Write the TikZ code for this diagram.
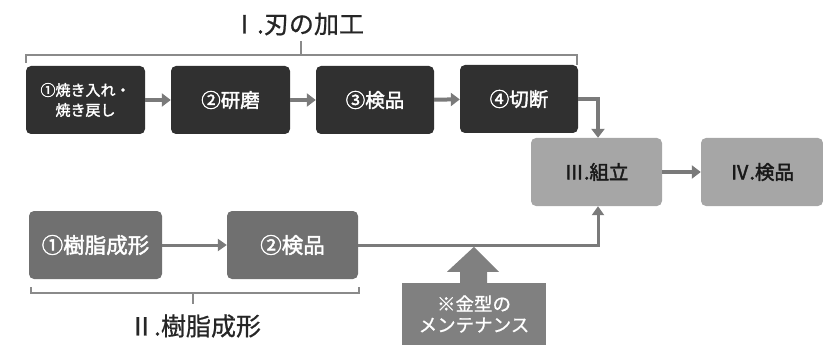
\documentclass[tikz,border=0pt]{standalone}
\usepackage{fontspec}
\setmainfont{Noto Sans CJK JP}
\newfontfamily\boldjp[FakeBold=2]{Noto Sans CJK JP}
\newfontfamily\medjp[FakeBold=0.8]{Noto Sans CJK JP}
\usetikzlibrary{arrows.meta,calc}
\definecolor{darkbox}{HTML}{303030}
\definecolor{midbox}{HTML}{707070}
\definecolor{lightbox}{HTML}{A6A6A6}
\definecolor{maintbox}{HTML}{808080}
\definecolor{arrowgray}{HTML}{7A7A7A}
\definecolor{brackgray}{HTML}{8A8A8A}
\tikzset{
  procbox/.style={rectangle, rounded corners=5pt, minimum height=68pt, inner sep=0pt, align=center, font=\boldjp\fontsize{19.5}{22}\selectfont},
  darkstep/.style={procbox, fill=darkbox, text=white},
  midstep/.style={procbox, fill=midbox, text=white, font=\boldjp\fontsize{21.5}{24}\selectfont},
  lightstep/.style={procbox, fill=lightbox, text=black!90},
  flowarrow/.style={draw=arrowgray, line width=4pt, -{Triangle[length=9pt,width=13pt]}},
  thinflow/.style={draw=arrowgray, line width=3pt, -{Triangle[length=9pt,width=12pt]}},
  bracket/.style={draw=brackgray, line width=1.2pt},
  title/.style={font=\medjp\fontsize{25}{28}\selectfont, text=black!85}
}
\begin{document}
\begin{tikzpicture}[x=1pt,y=-1pt]
\useasboundingbox (0,0) rectangle (823,345);
% top row
\node[darkstep, minimum width=119pt] (a1) at (85.5,100) {\fontsize{15}{18}\selectfont ①焼き入れ・\\[-2pt]\fontsize{15}{18}\selectfont 焼き戻し};
\node[darkstep, minimum width=119pt] (a2) at (230.5,100) {②研磨};
\node[darkstep, minimum width=118pt] (a3) at (375,100) {③検品};
\node[darkstep, minimum width=118pt] (a4) at (519,99) {④切断};
% right
\node[lightstep, minimum width=131pt] (c3) at (596.5,172) {Ⅲ.組立};
\node[lightstep, minimum width=122pt] (c4) at (762,172) {Ⅳ.検品};
% bottom row
\node[midstep, minimum width=133pt] (b1) at (95.5,245) {①樹脂成形};
\node[midstep, minimum width=131pt] (b2) at (292.5,245) {②検品};
% maintenance
\node[rectangle, fill=maintbox, text=white, minimum width=144pt, minimum height=62pt, inner sep=0pt, align=center, font=\medjp\fontsize{18.5}{21}\selectfont] (m) at (474,314) {※金型の\\メンテナンス};
\coordinate (mt) at (m.north);
\fill[maintbox] ($(mt)+(-14,0.5)$) -- ($(mt)+(-14,-11)$) -- ($(mt)+(-27,-11)$) -- ($(mt)+(0,-36)$) -- ($(mt)+(25,-11)$) -- ($(mt)+(13,-11)$) -- ($(mt)+(13,0.5)$) -- cycle;
% arrows
\draw[flowarrow] (a1) -- (a2);
\draw[flowarrow] (a2) -- (a3);
\draw[flowarrow] (a3) -- (a4);
\draw[flowarrow] (a4.east) -| ($(c3.north)+(1.5,0)$);
\draw[flowarrow] (c3) -- (c4);
\draw[thinflow] (b1) -- (b2);
\draw[thinflow] (b2.east) -| ($(c3.south)+(1.5,0)$);
% brackets
\draw[bracket] (26,63) -- (26,55) -- (577,55) -- (577,65);
\draw[bracket] (301,55) -- (301,41);
\node[title] (t1) at (298,24) {Ⅰ.刃の加工};
\draw[bracket] (31,287) -- (31,293) -- (359,293) -- (359,287);
\draw[bracket] (193,293) -- (193,304);
\node[title] (t2) at (195,326) {Ⅱ.樹脂成形};
\end{tikzpicture}
\end{document}
